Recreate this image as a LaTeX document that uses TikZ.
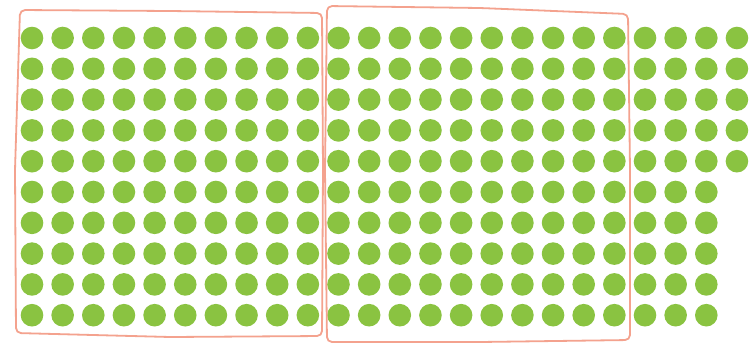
\documentclass[tikz,border=0pt]{standalone}
\definecolor{dotgreen}{RGB}{138,195,65}
\definecolor{boxred}{RGB}{244,162,142}
\begin{document}
\begin{tikzpicture}[x=1pt,y=-1pt,
  dot/.style={fill=dotgreen},
  groupbox/.style={draw=boxred,line width=1.8pt,rounded corners=5pt,line join=round}]
\useasboundingbox (0,0) rectangle (750,349);
\fill[white] (0,0) rectangle (750,349);
% first two hundred dots
\foreach \r in {0,...,9}{
  \foreach \c in {0,...,19}{
    \fill[dot] ({32+\c*30.65},{38+\r*30.8}) circle (11.3);
  }
}
% extra columns: top five rows have four, bottom five have three
\foreach \r in {0,...,4}{
  \foreach \c in {20,...,23}{
    \fill[dot] ({32+\c*30.65},{38+\r*30.8}) circle (11.3);
  }
}
\foreach \r in {5,...,9}{
  \foreach \c in {20,...,22}{
    \fill[dot] ({32+\c*30.65},{38+\r*30.8}) circle (11.3);
  }
}
% hand-drawn boxes
\draw[groupbox] (20,10) -- (170,11) -- (322,13) -- (323,170) -- (322,336) -- (170,337) -- (16,333) -- (15,170) -- cycle;
\draw[groupbox] (327,6) -- (480,8) -- (628,14) -- (630,170) -- (630,340) -- (480,342) -- (327,342) -- (325,170) -- cycle;
\end{tikzpicture}
\end{document}
